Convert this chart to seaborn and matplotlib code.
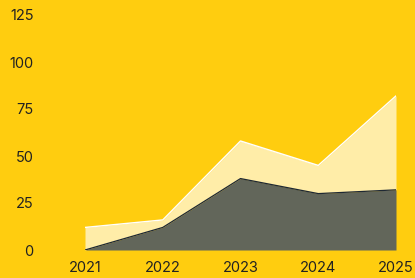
import matplotlib
matplotlib.use("Agg")
import matplotlib.pyplot as plt
import seaborn as sns
import numpy as np
import pandas as pd

years = [2021, 2022, 2023, 2024, 2025]
series_a = [0, 12, 38, 30, 32]      # dark bottom layer
series_b = [12, 4, 20, 15, 50]      # light top layer (stacked)
y_ticks = [0, 25, 50, 75, 100, 125]

BG = "#FFCD0F"
DARK_FILL = "#62665A"
DARK_LINE = "#1E2833"
LIGHT_FILL = "#FFEDA8"
TEXT = "#222222"

sns.set_theme(style="white")
plt.rcParams["font.family"] = ["Inter", "DejaVu Sans"]

df = pd.DataFrame({"year": years, "a": series_a, "b": series_b})
df["top"] = df["a"] + df["b"]

fig = plt.figure(figsize=(4.15, 2.78), dpi=100)
fig.patch.set_facecolor(BG)
ax = fig.add_axes([85/415, (278-250)/278, (396-85)/415, (250-15)/278])
ax.set_facecolor(BG)

ax.fill_between(df["year"], df["a"], df["top"], color=LIGHT_FILL, linewidth=0, zorder=1)
ax.fill_between(df["year"], 0, df["a"], color=DARK_FILL, linewidth=0, zorder=2)
sns.lineplot(data=df, x="year", y="top", color="white", linewidth=1.0, ax=ax, zorder=3)
sns.lineplot(data=df, x="year", y="a", color=DARK_LINE, linewidth=0.9, ax=ax, zorder=4)

ax.set_xlim(2021, 2025)
ax.set_ylim(0, 125)
ax.set_xticks(years)
ax.set_xticklabels([str(y) for y in years])
ax.set_yticks(y_ticks)
ax.set_xlabel("")
ax.set_ylabel("")
for s in ax.spines.values():
    s.set_visible(False)
ax.tick_params(axis="y", length=0, pad=37, labelsize=10.5, labelcolor=TEXT)
ax.tick_params(axis="x", length=0, pad=8, labelsize=10.5, labelcolor=TEXT)
for lab in ax.get_yticklabels():
    lab.set_horizontalalignment("right")
ax.grid(False)

fig.savefig("out.png", dpi=100, facecolor=BG)
